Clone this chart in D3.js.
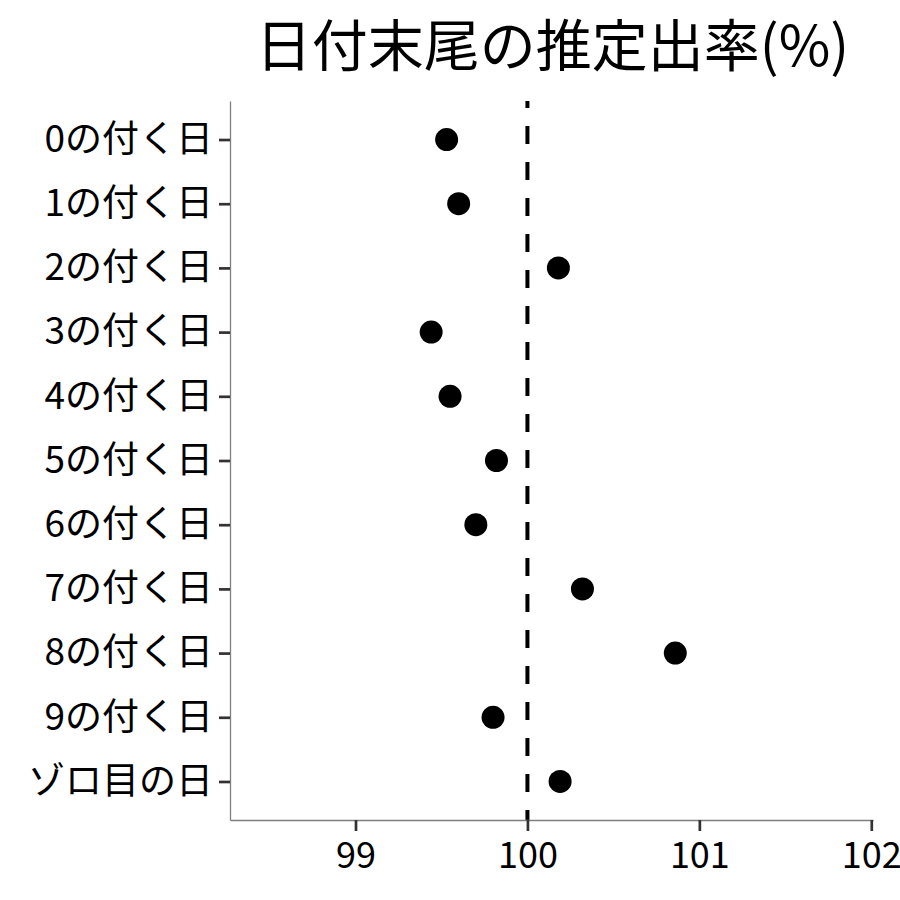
<!DOCTYPE html>
<html><head><meta charset="utf-8">
<script src="https://cdn.jsdelivr.net/npm/d3@7"></script>
<style>body{margin:0;background:#fff}svg{display:block}text{font-family:"Noto Sans CJK JP","Noto Sans",sans-serif}</style>
</head><body><svg id="c" width="900" height="900"></svg>
<script>
const categories = ["0の付く日","1の付く日","2の付く日","3の付く日","4の付く日","5の付く日","6の付く日","7の付く日","8の付く日","9の付く日","ゾロ目の日"];
const values = [99.53, 99.60, 100.18, 99.44, 99.55, 99.82, 99.70, 100.32, 100.86, 99.80, 100.19];
const xTicks = [99, 100, 101, 102];
const refValue = 100;
const title = "日付末尾の推定出率(%)";

const svg = d3.select("#c");
const L = 230, R = 873, T = 101, B = 820;
const x = d3.scaleLinear().domain([98.27, 102.01]).range([L, R]);
const y = d3.scalePoint().domain(categories).range([T, B]).padding(0.6);

svg.append("text").attr("x", (L+R)/2 + 1).attr("y", 66).attr("text-anchor","middle")
  .attr("font-size", 56).attr("fill","#000").text(title);

// dashed reference line
svg.append("line").attr("x1", x(refValue)).attr("x2", x(refValue)).attr("y1", T).attr("y2", B)
  .attr("stroke","#000").attr("stroke-width",4).attr("stroke-dasharray","18,18").attr("stroke-dashoffset",11);

// x axis
const xa = svg.append("g").attr("transform",`translate(0,${B})`)
  .call(d3.axisBottom(x).tickValues(xTicks).tickSize(11).tickSizeOuter(0).tickPadding(8).tickFormat(d3.format("d")));
xa.select(".domain").attr("stroke","#7f7f7f").attr("stroke-width",1.3);
xa.selectAll(".tick line").attr("stroke","#333").attr("stroke-width",2.7);
xa.selectAll(".tick text").attr("font-size",36).attr("fill","#000").attr("dy","0.8em")
  .attr("font-family",'"Noto Sans CJK JP",sans-serif');

// y axis
const ya = svg.append("g").attr("transform",`translate(${L},0)`)
  .call(d3.axisLeft(y).tickSize(11).tickSizeOuter(0).tickPadding(6));
ya.select(".domain").attr("stroke","#7f7f7f").attr("stroke-width",1.3);
ya.selectAll(".tick line").attr("stroke","#333").attr("stroke-width",2.7);
ya.selectAll(".tick text").attr("font-size",37).attr("fill","#000")
  .attr("font-family",'"Noto Sans CJK JP",sans-serif');

// points
svg.append("g").selectAll("circle").data(categories).join("circle")
  .attr("cx",(d,i)=>x(values[i])).attr("cy",d=>y(d)).attr("r",11.5).attr("fill","#000");
</script></body></html>
